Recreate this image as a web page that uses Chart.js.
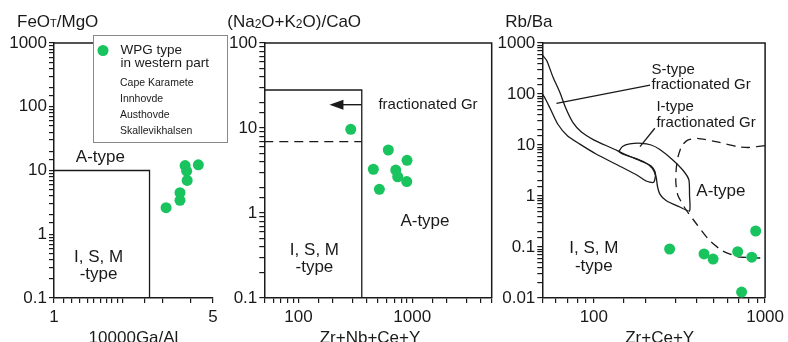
<!DOCTYPE html>
<html>
<head>
<meta charset="utf-8">
<title>Granite discrimination diagrams</title>
<script src="https://cdn.jsdelivr.net/npm/chart.js@4.4.1/dist/chart.umd.min.js"></script>
<style>
  html, body { margin: 0; padding: 0; background: #fff; }
  #wrap { position: relative; width: 788px; height: 342px; overflow: hidden; }
  #wrap canvas { position: absolute; left: 0; top: 0; }
</style>
</head>
<body>
<div id="wrap">
  <canvas id="c1" width="788" height="342"></canvas>
  <canvas id="c2" width="788" height="342"></canvas>
  <canvas id="c3" width="788" height="342"></canvas>
</div>
<script>
// ---- panel 1: 10000Ga/Al vs FeOT/MgO
var gaAl   = [3.11, 3.58, 3.58, 3.77, 3.83, 3.85, 4.31];
var feoMgo = [2.61, 3.40, 4.48, 11.97, 9.75, 6.98, 12.3];
var p1BoundX = [1, 2.63, 2.63];
var p1BoundY = [10, 10, 0.1];
var p1XTicks = [1, 5];
var p1YTicks = [0.1, 1, 10, 100, 1000];

// ---- panel 2: Zr+Nb+Ce+Y vs (Na2O+K2O)/CaO
var zrNbCeY = [288, 616, 455, 716, 745, 900, 895, 514];
var alkCa   = [9.66, 5.51, 3.27, 3.2, 2.67, 4.17, 2.34, 1.90];
var p2BoxX  = [50, 360, 360];
var p2BoxY  = [28, 28, 0.1];
var p2DashX = [50, 360];
var p2DashY = [6.9, 6.9];
var p2ArrowX = [359, 187];   // tail, tip
var p2ArrowY = [18.8, 18.8];
var p2XTicks = [100, 1000];
var p2YTicks = [0.1, 1, 10, 100];

// ---- panel 3: Zr+Ce+Y vs Rb/Ba
var zrCeY = [277, 440, 497, 692, 836, 881, 729];
var rbBa  = [0.0914, 0.073, 0.058, 0.081, 0.063, 0.206, 0.0131];
// S-type fractionated field (open at the axis)
var sFieldX = [50, 53.2, 57.7, 63.2, 68.5, 75.2, 84.6, 100.4, 127, 160, 194, 216, 228, 228, 222,
               202, 182, 145, 103, 82.4, 70.3, 61.5, 55.4, 51.8, 50];
var sFieldY = [582, 444, 215, 109, 53.1, 28.2, 18.0, 12.5, 8.73, 6.08, 4.64, 3.87, 2.96, 2.25, 1.84,
               1.97, 2.47, 3.70, 6.66, 10.5, 15.0, 25.8, 53.1, 83.5, 100];
// I-type fractionated field (closed loop)
var iFieldX = [140, 147, 162, 189, 216, 243, 289, 334, 359, 362, 362, 317, 264, 243, 235, 231, 219, 197, 166, 147, 140];
var iFieldY = [7.46, 9.35, 10.5, 10.8, 10.0, 8.16, 5.08, 3.09, 2.06, 1.05, 0.508, 0.609, 0.816, 1.09, 1.57, 2.36, 3.54, 4.64, 5.82, 6.66, 7.46];
// dashed A-type boundary
var aBoundX = [1000, 800, 683, 524, 402, 353, 326, 311, 303, 301, 309, 343, 402, 471, 560, 683, 800, 937];
var aBoundY = [9.69, 8.93, 9.35, 11.5, 13.5, 12.5, 9.56, 6.09, 3.54, 1.88, 1.05, 0.556, 0.270, 0.137, 0.0853, 0.0652, 0.0622, 0.0608];
var sLeaderX = [60.5, 213];
var sLeaderY = [65.8, 150];
var iLeaderX = [186, 227];
var iLeaderY = [9.26, 21.3];
var p3XTicks = [100, 1000];
var p3YTicks = [0.01, 0.1, 1, 10, 100, 1000];

var legendTitle = ['WPG type', 'in western part'];
var legendSites = ['Cape Karamete', 'Innhovde', 'Austhovde', 'Skallevikhalsen'];

var FONT = '"Liberation Sans", Arial, Helvetica, sans-serif';
var INK = '#1a1a1a';
var GREEN = '#19c45f';

function pairs(xs, ys) {
  return xs.map(function (x, i) { return { x: x, y: ys[i] }; });
}
function isLabel(list, v) {
  return list.some(function (t) { return Math.abs(t - v) / t < 1e-6; });
}

function panelPlugin(cfg) {
  return {
    id: 'panel' + cfg.id,
    afterDraw: function (chart) {
      var ctx = chart.ctx, a = chart.chartArea, sx = chart.scales.x, sy = chart.scales.y;
      ctx.save();
      // top / right frame
      ctx.strokeStyle = INK;
      ctx.lineWidth = 1.5;
      ctx.beginPath();
      ctx.moveTo(a.left, a.top);
      ctx.lineTo(a.right, a.top);
      if (cfg.frameRight) ctx.lineTo(a.right, a.bottom);
      ctx.stroke();

      // y title written horizontally above the axis
      ctx.fillStyle = INK;
      ctx.textAlign = 'left';
      ctx.textBaseline = 'alphabetic';
      var x = a.left - 37;
      cfg.yTitle.forEach(function (s) {
        ctx.font = s[1] + 'px ' + FONT;
        ctx.fillText(s[0], x, 27 + (s[2] || 0));
        x += ctx.measureText(s[0]).width;
      });
      // x title
      ctx.font = '17px ' + FONT;
      ctx.textAlign = 'center';
      ctx.fillText(cfg.xTitle, (a.left + a.right) / 2 + (cfg.xTitleShift || 0), 343);

      // field labels
      ctx.textBaseline = 'middle';
      cfg.notes.forEach(function (n) {
        ctx.font = (n.size || 17) + 'px ' + FONT;
        ctx.textAlign = n.align || 'center';
        ctx.fillText(n.text, sx.getPixelForValue(n.x), sy.getPixelForValue(n.y));
      });

      if (cfg.arrow) {
        var x0 = sx.getPixelForValue(cfg.arrow.x[0]);
        var x1 = sx.getPixelForValue(cfg.arrow.x[1]);
        var y0 = sy.getPixelForValue(cfg.arrow.y[0]);
        ctx.lineWidth = 1.4;
        ctx.beginPath();
        ctx.moveTo(x0, y0);
        ctx.lineTo(x1 + 10, y0);
        ctx.stroke();
        ctx.beginPath();
        ctx.moveTo(x1, y0);
        ctx.lineTo(x1 + 14, y0 - 5);
        ctx.lineTo(x1 + 14, y0 + 5);
        ctx.closePath();
        ctx.fill();
      }

      if (cfg.legend) {
        var lx = a.left + 39, ly = a.top - 8, lw = 134, lh = 107;
        ctx.fillStyle = '#fff';
        ctx.fillRect(lx, ly, lw, lh);
        ctx.strokeStyle = '#888';
        ctx.lineWidth = 1;
        ctx.strokeRect(lx + 0.5, ly + 0.5, lw, lh);
        ctx.fillStyle = GREEN;
        ctx.beginPath();
        ctx.arc(lx + 10, ly + 15.5, 5.5, 0, Math.PI * 2);
        ctx.fill();
        ctx.fillStyle = INK;
        ctx.textAlign = 'left';
        ctx.textBaseline = 'middle';
        ctx.font = '13.5px ' + FONT;
        ctx.fillText(legendTitle[0], lx + 27.5, ly + 15);
        ctx.fillText(legendTitle[1], lx + 27.5, ly + 28);
        ctx.font = '10.5px ' + FONT;
        legendSites.forEach(function (s, i) {
          ctx.fillText(s, lx + 27, ly + 48 + i * 16);
        });
      }
      ctx.restore();
    }
  };
}

function axis(min, max, labels, isX) {
  return {
    type: 'logarithmic',
    min: min,
    max: max,
    afterFit: function (s) { if (isX) s.height = 44; else s.width = 50; },
    border: { display: true, color: INK, width: 1.5 },
    grid: { drawOnChartArea: false, drawTicks: true, tickLength: 5, color: INK, lineWidth: 1.2 },
    ticks: {
      autoSkip: false,
      maxRotation: 0,
      padding: isX ? 4 : 2,
      color: INK,
      font: { family: FONT, size: 17 },
      callback: function (v) { return isLabel(labels, v) ? String(v) : ''; }
    }
  };
}

function makePanel(cfg) {
  var datasets = [{
    data: pairs(cfg.px, cfg.py),
    pointRadius: 5.5,
    pointBackgroundColor: GREEN,
    pointBorderWidth: 0,
    order: 0
  }];
  cfg.lines.forEach(function (l) {
    datasets.push({
      data: pairs(l.x, l.y),
      showLine: true,
      pointRadius: 0,
      borderColor: INK,
      borderWidth: 1.3,
      borderDash: l.dash || [],
      tension: l.tension || 0,
      fill: false,
      clip: false,
      order: 1
    });
  });
  new Chart(document.getElementById(cfg.id), {
    type: 'scatter',
    data: { datasets: datasets },
    options: {
      responsive: false,
      animation: false,
      events: [],
      layout: { padding: cfg.pad },
      plugins: { legend: { display: false }, tooltip: { enabled: false } },
      scales: {
        x: axis(cfg.xMin, cfg.xMax, cfg.xTicks, true),
        y: axis(cfg.yMin, cfg.yMax, cfg.yTicks, false)
      }
    },
    plugins: [panelPlugin(cfg)]
  });
}

makePanel({
  id: 'c1',
  pad: { left: 4, right: 575, top: 43, bottom: 0 },
  xMin: 1, xMax: 5, yMin: 0.1, yMax: 1000,
  xTicks: p1XTicks, yTicks: p1YTicks,
  px: gaAl, py: feoMgo,
  lines: [{ x: p1BoundX, y: p1BoundY }],
  yTitle: [['FeO', 17], ['T', 11], ['/MgO', 17]],
  xTitle: '10000Ga/Al',
  notes: [
    { text: 'A-type', x: 1.6, y: 16 },
    { text: 'I, S, M', x: 1.57, y: 0.437 },
    { text: '-type', x: 1.57, y: 0.237 }
  ],
  legend: true
});

makePanel({
  id: 'c2',
  pad: { left: 214.3, right: 296.3, top: 43, bottom: 0 },
  xMin: 50, xMax: 5000, yMin: 0.1, yMax: 100,
  xTicks: p2XTicks, yTicks: p2YTicks,
  px: zrNbCeY, py: alkCa,
  lines: [
    { x: p2BoxX, y: p2BoxY },
    { x: p2DashX, y: p2DashY, dash: [9, 6] }
  ],
  yTitle: [['(Na', 17], ['2', 12, 1], ['O+K', 17], ['2', 12, 1], ['O)/CaO', 17]],
  xTitle: 'Zr+Nb+Ce+Y',
  xTitleShift: -8,
  frameRight: true,
  notes: [
    { text: 'fractionated Gr', x: 504, y: 18.8, size: 15, align: 'left' },
    { text: 'A-type', x: 1294, y: 0.79 },
    { text: 'I, S, M', x: 138, y: 0.367 },
    { text: '-type', x: 138, y: 0.227 }
  ],
  arrow: { x: p2ArrowX, y: p2ArrowY }
});

makePanel({
  id: 'c3',
  pad: { left: 492.3, right: 19, top: 43, bottom: 0 },
  xMin: 50, xMax: 1000, yMin: 0.01, yMax: 1000,
  xTicks: p3XTicks, yTicks: p3YTicks,
  px: zrCeY, py: rbBa,
  lines: [
    { x: sFieldX, y: sFieldY, tension: 0.2 },
    { x: iFieldX, y: iFieldY, tension: 0.2 },
    { x: aBoundX, y: aBoundY, dash: [9, 6], tension: 0.2 },
    { x: sLeaderX, y: sLeaderY },
    { x: iLeaderX, y: iLeaderY }
  ],
  yTitle: [['Rb/Ba', 17]],
  xTitle: 'Zr+Ce+Y',
  xTitleShift: 6,
  frameRight: true,
  notes: [
    { text: 'S-type', x: 217, y: 295, size: 15, align: 'left' },
    { text: 'fractionated Gr', x: 217, y: 150, size: 15, align: 'left' },
    { text: 'I-type', x: 232, y: 55.6, size: 15, align: 'left' },
    { text: 'fractionated Gr', x: 232, y: 26.6, size: 15, align: 'left' },
    { text: 'A-type', x: 552, y: 1.25 },
    { text: 'I, S, M', x: 100, y: 0.094 },
    { text: '-type', x: 100, y: 0.042 }
  ]
});
</script>
</body>
</html>
